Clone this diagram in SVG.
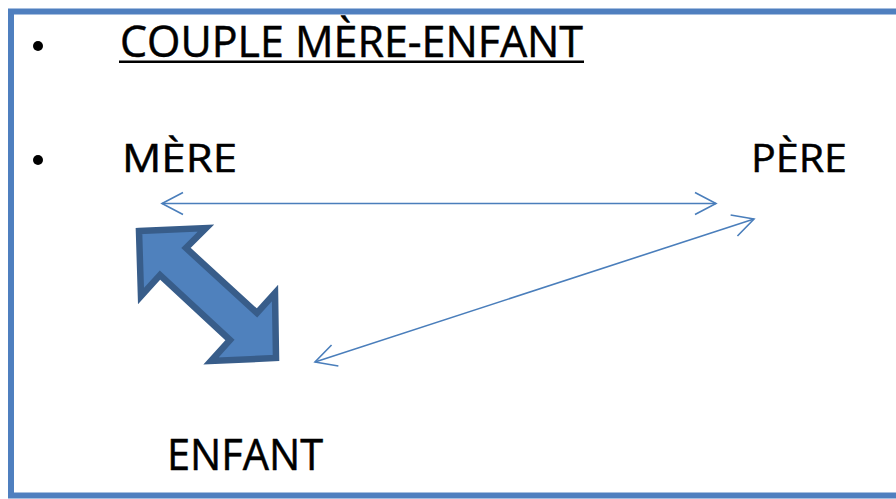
<svg xmlns="http://www.w3.org/2000/svg" width="896" height="499" viewBox="0 0 896 499">
  <style>
    .txt { font-family: "Open Sans", "Liberation Sans", sans-serif; fill: #000; stroke: #000; stroke-width: 0.5; }
    .thin { fill: none; stroke: #4A7EBB; stroke-width: 1.6; }
  </style>
  <defs>
    <marker id="head" viewBox="-23 -13 26 26" refX="0" refY="0" markerWidth="26" markerHeight="26" markerUnits="userSpaceOnUse" orient="auto-start-reverse">
      <path d="M-21,-11 L0,0 L-21,11" fill="none" stroke="#4A7EBB" stroke-width="1.6" stroke-linejoin="miter"/>
    </marker>
  </defs>

  <rect width="896" height="499" fill="#fff"/>
  <!-- slide frame, open on the right -->
  <rect x="11" y="11.5" width="900" height="484" fill="none" stroke="#4F7FBF" stroke-width="6"/>

  <g id="title">
    <circle cx="38" cy="46" r="5" fill="#000"/>
    <text class="txt" x="120" y="57" font-size="44" textLength="463" lengthAdjust="spacingAndGlyphs">COUPLE MÈRE-ENFANT</text>
    <rect x="119" y="60.5" width="465" height="2.5" fill="#000"/>
  </g>

  <g id="mere">
    <circle cx="38" cy="160" r="5" fill="#000"/>
    <text class="txt" x="122" y="172" font-size="39" textLength="115" lengthAdjust="spacingAndGlyphs">MÈRE</text>
  </g>

  <g id="pere">
    <text class="txt" x="751" y="172" font-size="39" textLength="96" lengthAdjust="spacingAndGlyphs">PÈRE</text>
  </g>

  <g id="enfant">
    <text class="txt" x="167" y="470" font-size="43" textLength="156" lengthAdjust="spacingAndGlyphs">ENFANT</text>
  </g>

  <g id="connectors">
    <line class="thin" x1="162" y1="203.5" x2="716" y2="203.5" marker-start="url(#head)" marker-end="url(#head)"/>
    <line class="thin" x1="315" y1="362" x2="754" y2="219" marker-start="url(#head)" marker-end="url(#head)"/>
    <!-- thick double arrow between mother and child -->
    <polygon points="139,231 206,228 186,248 257,313 275,293 276,358 211,361 230,340 160,275 141,296"
             fill="#4F81BD" stroke="#385D8A" stroke-width="6.5" stroke-linejoin="miter"/>
  </g>
</svg>
